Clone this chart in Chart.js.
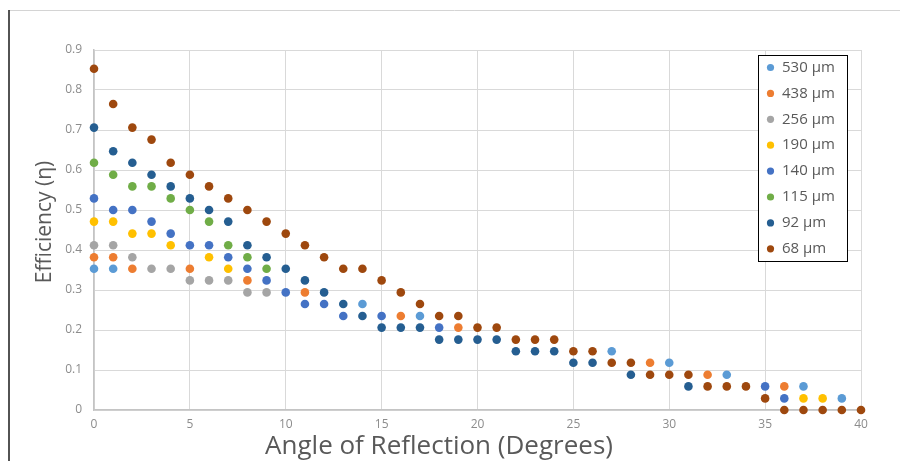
<!DOCTYPE html>
<html>
<head>
    <meta charset="utf-8">
    <script src="https://cdn.jsdelivr.net/npm/chart.js@4/dist/chart.umd.min.js"></script>
    <style>
        body { margin: 0; background: #fff; }
        #wrap { width: 900px; height: 461px; }
    </style>
</head>
<body>
    <div id="wrap"><canvas id="chart"></canvas></div>
<script>
    // angle of reflection in degrees, one entry per measurement
    var angles = [0, 1, 2, 3, 4, 5, 6, 7, 8, 9, 10, 11, 12, 13, 14, 15, 16, 17, 18, 19, 20,
                  21, 22, 23, 24, 25, 26, 27, 28, 29, 30, 31, 32, 33, 34, 35, 36, 37, 38, 39, 40];

    // efficiency per grating size (null = no point at that angle)
    var eff530 = [0.353, 0.353, null, null, null, null, null, null, null, null, null,
                  null, null, null, 0.265, null, null, 0.235, null, null, null,
                  null, null, null, null, null, null, 0.147, null, null, 0.118,
                  null, null, 0.088, null, null, null, 0.059, null, 0.029, null];
    var eff438 = [0.382, 0.382, 0.353, null, null, 0.353, null, null, 0.324, null, null,
                  0.294, null, null, null, null, 0.235, null, null, 0.206, null,
                  null, null, null, null, null, null, null, null, 0.118, null,
                  null, 0.088, null, null, null, 0.059, null, null, null, null];
    var eff256 = [0.412, 0.412, 0.382, 0.353, 0.353, 0.324, 0.324, 0.324, 0.294, 0.294, null,
                  null, null, null, null, null, null, null, null, null, null,
                  null, null, null, null, null, null, null, null, null, null,
                  null, null, null, null, null, null, null, null, null, null];
    var eff190 = [0.471, 0.471, 0.441, 0.441, 0.412, null, 0.382, 0.353, null, null, null,
                  null, null, null, null, null, null, null, null, null, null,
                  null, null, null, null, null, null, null, null, null, null,
                  null, null, null, null, null, null, 0.029, 0.029, null, null];
    var eff140 = [0.529, 0.5, 0.5, 0.471, 0.441, 0.412, 0.412, 0.382, 0.353, 0.324, 0.294,
                  0.265, 0.265, 0.235, null, 0.235, null, null, 0.206, null, null,
                  null, null, null, null, null, null, null, null, null, null,
                  null, null, null, null, 0.059, 0.029, null, null, null, null];
    var eff115 = [0.618, 0.588, 0.559, 0.559, 0.529, 0.5, 0.471, 0.412, 0.382, 0.353, null,
                  null, null, null, null, null, null, null, null, null, null,
                  null, null, null, null, null, null, null, null, null, null,
                  null, null, null, null, null, null, null, null, null, null];
    var eff92 = [0.706, 0.647, 0.618, 0.588, 0.559, 0.529, 0.5, 0.471, 0.412, 0.382, 0.353,
                 0.324, 0.294, 0.265, 0.235, 0.206, 0.206, 0.206, 0.176, 0.176, 0.176,
                 0.176, 0.147, 0.147, 0.147, 0.118, 0.118, null, 0.088, null, null,
                 0.059, null, null, null, null, null, null, null, null, null];
    var eff68 = [0.853, 0.765, 0.706, 0.676, 0.618, 0.588, 0.559, 0.529, 0.5, 0.471, 0.441,
                 0.412, 0.382, 0.353, 0.353, 0.324, 0.294, 0.265, 0.235, 0.235, 0.206,
                 0.206, 0.176, 0.176, 0.176, 0.147, 0.147, 0.118, 0.118, 0.088, 0.088,
                 0.088, 0.059, 0.059, 0.059, 0.029, 0, 0, 0, 0, 0];

    var sizeLabels = ['530 μm', '438 μm', '256 μm', '190 μm', '140 μm', '115 μm', '92 μm', '68 μm'];
    var seriesValues = [eff530, eff438, eff256, eff190, eff140, eff115, eff92, eff68];
    var colors = ['#5B9BD5', '#ED7D31', '#A5A5A5', '#FFC000', '#4472C4', '#70AD47', '#255E91', '#9E480E'];

    var xTicks = { min: 0, max: 40, step: 5 };
    var yTicks = { min: 0, max: 0.9, step: 0.1 };

    var FONT = "'Open Sans', sans-serif";

    function toPoints(vals) {
        return angles.map(function (a, i) { return { x: a, y: vals[i] }; })
                     .filter(function (p) { return p.y !== null; });
    }

    // frame, axis titles and the boxed legend inside the plot
    var decorations = {
        id: 'decorations',
        beforeDraw: function (chart) {
            var ctx = chart.ctx;
            ctx.save();
            ctx.fillStyle = '#fff';
            ctx.fillRect(0, 0, chart.width, chart.height);
            ctx.strokeStyle = '#d4d4d4';
            ctx.lineWidth = 1;
            ctx.beginPath();
            ctx.moveTo(9, 10.5);
            ctx.lineTo(chart.width, 10.5);
            ctx.stroke();
            ctx.strokeStyle = '#1a1a1a';
            ctx.lineWidth = 1.5;
            ctx.beginPath();
            ctx.moveTo(9, 10);
            ctx.lineTo(9, chart.height);
            ctx.stroke();
            ctx.restore();
        },
        afterDraw: function (chart) {
            var ctx = chart.ctx;
            var area = chart.chartArea;
            ctx.save();

            ctx.fillStyle = '#595959';
            ctx.textAlign = 'center';
            ctx.textBaseline = 'middle';
            ctx.font = '26px ' + FONT;
            ctx.fillText('Angle of Reflection (Degrees)', 439, 447);

            ctx.translate(45, 222);
            ctx.rotate(-Math.PI / 2);
            ctx.font = '21px ' + FONT;
            ctx.fillText('Efficiency (η)', 0, 0);
            ctx.setTransform(1, 0, 0, 1, 0, 0);

            var boxW = 89, boxH = 206, rowH = 25.9;
            var left = area.right - 14 - boxW;
            var top = area.top + 5;
            ctx.fillStyle = '#fff';
            ctx.fillRect(left, top, boxW, boxH);
            ctx.strokeStyle = '#000';
            ctx.lineWidth = 1;
            ctx.strokeRect(left + 0.5, top + 0.5, boxW, boxH);

            ctx.font = '15px ' + FONT;
            ctx.textAlign = 'left';
            chart.data.datasets.forEach(function (ds, i) {
                var y = top + 12.5 + i * rowH;
                ctx.fillStyle = ds.backgroundColor;
                ctx.beginPath();
                ctx.arc(left + 12.5, y, 3.6, 0, Math.PI * 2);
                ctx.fill();
                ctx.fillStyle = '#595959';
                ctx.fillText(ds.label, left + 24, y);
            });
            ctx.restore();
        }
    };

    new Chart('chart', {
        type: 'scatter',
        data: {
            datasets: seriesValues.map(function (vals, i) {
                return {
                    label: sizeLabels[i],
                    data: toPoints(vals),
                    backgroundColor: colors[i],
                    borderWidth: 0,
                    pointRadius: 4.3,
                    pointHoverRadius: 4.3,
                    clip: false
                };
            })
        },
        options: {
            responsive: true,
            maintainAspectRatio: false,
            animation: false,
            events: [],
            layout: { padding: { top: 50, right: 39, left: 0, bottom: 0 } },
            plugins: {
                legend: { display: false },
                tooltip: { enabled: false }
            },
            scales: {
                x: {
                    type: 'linear',
                    min: xTicks.min,
                    max: xTicks.max,
                    ticks: { stepSize: xTicks.step, color: '#8c8c8c', padding: 7, font: { family: FONT, size: 12 } },
                    grid: { color: '#d9d9d9', drawTicks: false },
                    border: { color: '#c4c4c4', width: 1.5 },
                    afterFit: function (s) { s.height = 51; }
                },
                y: {
                    min: yTicks.min,
                    max: yTicks.max,
                    ticks: { stepSize: yTicks.step, color: '#8c8c8c', padding: 12, font: { family: FONT, size: 12 } },
                    grid: { color: '#d9d9d9', drawTicks: false },
                    border: { color: '#c4c4c4', width: 1.5 },
                    afterFit: function (s) { s.width = 94; }
                }
            }
        },
        plugins: [decorations]
    });
</script>
</body>
</html>
